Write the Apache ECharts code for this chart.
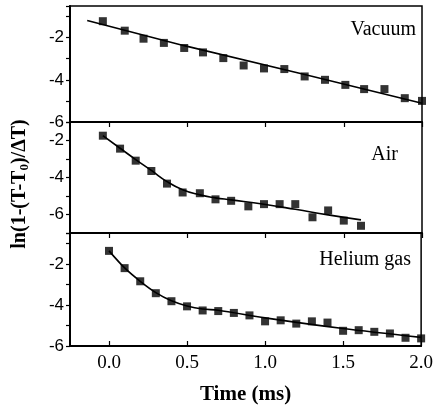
<!DOCTYPE html>
<html>
<head>
<meta charset="utf-8">
<script src="https://cdn.jsdelivr.net/npm/echarts@6/dist/echarts.min.js"></script>
<style>
  html, body { margin: 0; padding: 0; background: #fff; }
  #chart { width: 436px; height: 412px; }
</style>
</head>
<body>
<div id="chart"></div>
<script>
// Vacuum panel
const vacuumX = [-0.04, 0.10, 0.22, 0.35, 0.48, 0.60, 0.73, 0.86, 0.99, 1.12, 1.25, 1.38, 1.51, 1.63, 1.76, 1.89, 2.00]
const vacuumY = [-1.22, -1.67, -2.05, -2.25, -2.49, -2.70, -2.97, -3.32, -3.46, -3.49, -3.84, -4.00, -4.24, -4.44, -4.44, -4.87, -5.00]
const vacuumFitX = [-0.14, 0.48, 1.25, 2.00]
const vacuumFitY = [-1.19, -2.38, -3.75, -5.11]

// Air panel
const airX = [-0.04, 0.07, 0.17, 0.27, 0.37, 0.47, 0.58, 0.68, 0.78, 0.89, 0.99, 1.09, 1.19, 1.30, 1.40, 1.50, 1.61]
const airY = [-1.74, -2.44, -3.09, -3.65, -4.33, -4.81, -4.85, -5.18, -5.26, -5.56, -5.44, -5.44, -5.44, -6.15, -5.78, -6.33, -6.61]
const airFitX = [-0.04, 0.07, 0.17, 0.27, 0.37, 0.47, 0.58, 0.68, 0.78, 0.99, 1.19, 1.40, 1.61]
const airFitY = [-1.74, -2.42, -3.03, -3.62, -4.22, -4.66, -4.94, -5.10, -5.21, -5.45, -5.72, -6.02, -6.29]

// Helium gas panel
const heliumX = [0.0, 0.1, 0.2, 0.3, 0.4, 0.5, 0.6, 0.7, 0.8, 0.9, 1.0, 1.1, 1.2, 1.3, 1.4, 1.5, 1.6, 1.7, 1.8, 1.9, 2.0]
const heliumY = [-1.37, -2.21, -2.85, -3.43, -3.82, -4.07, -4.27, -4.30, -4.39, -4.51, -4.80, -4.75, -4.91, -4.80, -4.86, -5.26, -5.23, -5.31, -5.39, -5.60, -5.63]
const heliumFitX = [0.0, 0.1, 0.2, 0.3, 0.4, 0.5, 0.6, 0.7, 1.0, 1.5, 2.0]
const heliumFitY = [-1.37, -2.20, -2.85, -3.40, -3.80, -4.05, -4.20, -4.26, -4.63, -5.15, -5.58]

const xTicks = ['0.0', '0.5', '1.0', '1.5', '2.0']
const panelNames = ['Vacuum', 'Air', 'Helium gas']

const zip = (xs, ys) => xs.map((x, i) => [x, ys[i]])

const serif = 'Liberation Serif'
const sans = 'Liberation Sans'

const grids = [
  { left: 70, right: 14, top: 6, height: 116 },
  { left: 70, right: 14, top: 122, height: 111 },
  { left: 70, right: 14, top: 233, height: 113 }
].map(g => ({ ...g, show: true, borderColor: '#000', borderWidth: 1.5 }))

const makeX = (i) => ({
  type: 'value',
  gridIndex: i,
  min: -0.25,
  max: 2.0,
  interval: 0.25,
  axisLine: { show: true, onZero: false, lineStyle: { color: '#000', width: 2 } },
  axisTick: {
    show: true,
    inside: i === 2,
    length: 5,
    lineStyle: { color: '#000', width: 1.2 },
    customValues: [0, 0.5, 1.0, 1.5, 2.0]
  },
  minorTick: { show: false },
  axisLabel: {
    show: i === 2,
    color: '#000',
    fontFamily: serif,
    fontSize: 19,
    margin: 8,
    customValues: [0, 0.5, 1.0, 1.5, 2.0],
    formatter: v => xTicks[Math.round(v / 0.5)]
  },
  splitLine: { show: false },
  name: i === 2 ? 'Time (ms)' : '',
  nameLocation: 'middle',
  nameGap: 38,
  nameTextStyle: { color: '#000', fontFamily: serif, fontWeight: 'bold', fontSize: 21 }
})

const yRanges = [[-6, -0.5], [-7, -1], [-6, -0.5]]
const makeY = (i) => ({
  type: 'value',
  gridIndex: i,
  min: yRanges[i][0],
  max: yRanges[i][1],
  interval: 1,
  axisLine: { show: true, onZero: false, lineStyle: { color: '#000', width: 2 } },
  axisTick: { show: true, inside: false, length: 4, lineStyle: { color: '#000', width: 1.2 } },
  axisLabel: {
    color: '#000',
    fontFamily: sans,
    fontSize: 17,
    margin: 6,
    formatter: v => (Number.isInteger(v) && v % 2 === 0 && v >= -6) ? String(v) : ''
  },
  splitLine: { show: false }
})

const dots = (i, data) => ({
  type: 'scatter',
  xAxisIndex: i,
  yAxisIndex: i,
  data,
  symbol: 'rect',
  symbolSize: 8,
  itemStyle: { color: '#000' },
  z: 3
})

const fit = (i, data, smooth) => ({
  type: 'line',
  xAxisIndex: i,
  yAxisIndex: i,
  data,
  smooth,
  showSymbol: false,
  lineStyle: { color: '#000', width: 1.6 },
  z: 2
})

const chart = echarts.init(document.getElementById('chart'))
chart.setOption({
  animation: false,
  backgroundColor: '#fff',
  grid: grids,
  xAxis: [0, 1, 2].map(makeX),
  yAxis: [0, 1, 2].map(makeY),
  series: [
    fit(0, zip(vacuumFitX, vacuumFitY), false),
    dots(0, zip(vacuumX, vacuumY)),
    fit(1, zip(airFitX, airFitY), 0.5),
    dots(1, zip(airX, airY)),
    fit(2, zip(heliumFitX, heliumFitY), 0.3),
    dots(2, zip(heliumX, heliumY))
  ],
  graphic: [
    { type: 'text', right: 20, top: 20, style: { text: panelNames[0], font: '20px "Liberation Serif"', fill: '#000' } },
    { type: 'text', right: 38, top: 145, style: { text: panelNames[1], font: '20px "Liberation Serif"', fill: '#000' } },
    { type: 'text', right: 25, top: 250, style: { text: panelNames[2], font: '20px "Liberation Serif"', fill: '#000' } },
    {
      type: 'text',
      x: 20,
      y: 184,
      rotation: Math.PI / 2,
      style: {
        text: '{a|ln(1-(T-T}{s|0}{a|)/ΔT)}',
        align: 'center',
        verticalAlign: 'middle',
        rich: {
          a: { fontFamily: serif, fontWeight: 'bold', fontSize: 20, fill: '#000' },
          s: { fontFamily: serif, fontWeight: 'bold', fontSize: 13, fill: '#000', padding: [10, 0, 0, 0] }
        }
      }
    }
  ]
})
</script>
</body>
</html>
